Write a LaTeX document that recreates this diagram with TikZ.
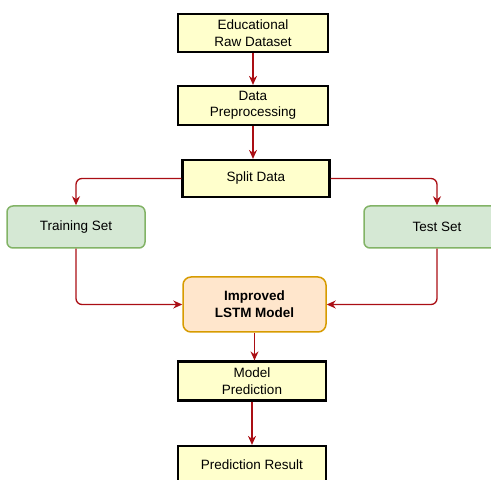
\documentclass[tikz,border=0pt]{standalone}
\usepackage{fontspec}
\setmainfont{Liberation Sans}
\usetikzlibrary{arrows.meta,positioning}
\definecolor{yfill}{RGB}{255,255,204}
\definecolor{gfill}{RGB}{213,232,212}
\definecolor{gline}{RGB}{130,179,102}
\definecolor{ofill}{RGB}{255,230,204}
\definecolor{oline}{RGB}{215,155,0}
\definecolor{flowred}{RGB}{170,14,20}
\tikzset{
  ybox/.style={draw=black, line width=2.2pt, fill=yfill, align=center, inner sep=0pt,
      font=\fontsize{13.5}{16.5}\selectfont},
  gbox/.style={draw=gline, line width=1.5pt, fill=gfill, rounded corners=6pt, align=center,
      inner sep=0pt, font=\fontsize{13.5}{16.5}\selectfont},
  obox/.style={draw=oline, line width=1.5pt, fill=ofill, rounded corners=8pt, align=center,
      inner sep=0pt, font=\fontsize{13.5}{17}\selectfont\bfseries},
  flow/.style={-{Stealth[length=9pt,width=8pt]}, flowred, line width=1.3pt, rounded corners=6pt},
}

\begin{document}
\begin{tikzpicture}[x=1pt, y=1pt]
  \useasboundingbox (0,0) rectangle (491,480);
  \clip (0,0) rectangle (491,480);
  \node[ybox, minimum width=150, minimum height=38] (raw) at (253,447) {Educational\\Raw Dataset};
  \node[ybox, minimum width=150, minimum height=39] (prep) at (253,374.5) {Data\\Preprocessing};
  \node[ybox, minimum width=147, minimum height=37] (split) at (256,301.5) {Split Data};
  \node[gbox, minimum width=138, minimum height=42] (train) at (76,253) {Training Set};
  \node[gbox, minimum width=146, minimum height=42] (test) at (437,253) {Test Set};
  \node[obox, minimum width=143, minimum height=55] (lstm) at (254.5,175.5) {Improved\\LSTM Model};
  \node[ybox, minimum width=148, minimum height=39] (mpred) at (252,99) {Model\\Prediction};
  \node[ybox, minimum width=148, minimum height=38] (pres) at (252,15) {Prediction Result};
  \draw[flow] (raw) -- (prep);
  \draw[flow] (prep.south) -- (prep.south |- split.north);
  \draw[flow] (split.west) -| (train.north);
  \draw[flow] (split.east) -| (test.north);
  \draw[flow] (train.south) |- (lstm.west);
  \draw[flow] (test.south) |- (lstm.east);
  \draw[flow] (lstm.south) -- (lstm.south |- mpred.north);
  \draw[flow] (mpred) -- (pres);
\end{tikzpicture}
\end{document}
